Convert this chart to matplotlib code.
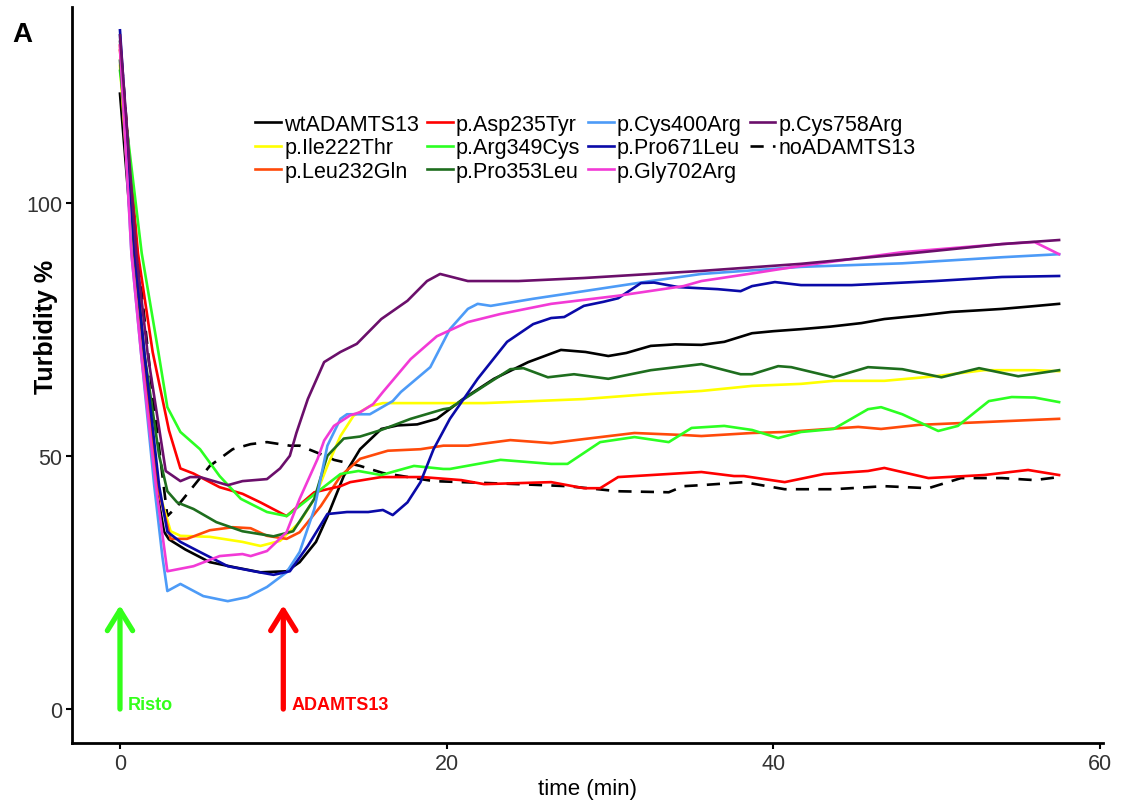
import numpy as np
import matplotlib.pyplot as plt

plt.rcParams['font.family'] = ['Liberation Sans', 'DejaVu Sans']

# ---------------------------------------- #
#        Turbidity curves (read off)       #
# ---------------------------------------- #
t_wt = [0, 0.8, 1.4, 2.2, 2.7, 3, 4, 5.5, 7, 8.6, 10.2, 11, 12, 12.7, 13.7, 14.7, 16, 17, 18.2, 19.4,
        21, 22.9, 25, 27, 28.5, 29.9, 31, 32.5, 34, 35.6, 37, 38.7, 40, 41.7, 43.5, 45.4, 46.8, 49,
        50.9, 52.5, 54, 55.8, 57.5]
y_wt = [121.5, 90, 70, 44, 35, 33.5, 31.5, 29, 28, 27, 27.2, 29, 33, 38, 46, 51.3, 55.3, 56, 56.2, 57.3,
        61.2, 65.2, 68.5, 70.9, 70.5, 69.7, 70.3, 71.7, 72, 71.9, 72.5, 74.2, 74.6, 75, 75.5, 76.2, 77, 77.7,
        78.4, 78.7, 79, 79.5, 80]

t_ile222 = [0, 0.8, 1.4, 2.3, 3.1, 3.7, 5.5, 7.5, 8.6, 9.8, 11, 11.9, 12.7, 13.5, 14.3, 15.3, 16.1, 18.8,
            22.3, 28.4, 32.5, 35.6, 38.7, 41.7, 43.7, 46.8, 49.9, 52.9, 56, 57.5]
y_ile222 = [127, 90, 70, 44, 35.1, 34.2, 34, 33, 32.2, 33.2, 36.9, 41.5, 48, 53.9, 57.9, 59.8, 60.4, 60.4,
            60.4, 61.2, 62.2, 62.8, 63.8, 64.2, 64.8, 64.8, 65.7, 66.9, 66.9, 66.7]

t_leu232 = [0, 0.8, 1.4, 2.3, 3.1, 4.1, 5.5, 6.9, 8, 9, 10.2, 11, 12.3, 13.5, 14.7, 16.4, 18.4, 19.8, 21.3,
            23.9, 26.4, 28.4, 31.5, 34.5, 35.6, 38.7, 40.7, 45.2, 46.6, 48.9, 57.5]
y_leu232 = [131, 90, 70, 44, 33.6, 33.6, 35.3, 35.9, 35.7, 34.2, 33.6, 34.9, 40.1, 46, 49.4, 51, 51.3, 52, 52,
            53.1, 52.5, 53.3, 54.5, 54.1, 53.9, 54.5, 54.7, 55.7, 55.3, 56.1, 57.3]

t_asp235 = [0, 1.1, 2, 3, 3.7, 4.5, 6.1, 7.5, 8.6, 10.2, 11.9, 13.5, 14.1, 16, 18.5, 20.9, 22.3, 26.4, 28.4,
            29.4, 30.5, 35.6, 37.6, 38.2, 40.7, 43.1, 45.8, 46.8, 49.5, 52.9, 55.6, 57.5]
y_asp235 = [130, 90, 70.5, 55, 47.5, 46.5, 43.8, 42.5, 40.8, 38.1, 42.8, 44, 44.8, 45.8, 45.8, 45.2, 44.4, 44.8,
            43.6, 43.6, 45.8, 46.8, 46, 46, 44.8, 46.4, 47, 47.6, 45.6, 46.2, 47.2, 46.2]

t_arg349 = [0, 1.33, 2.35, 2.9, 3.7, 4.9, 6.1, 7.4, 9, 10.2, 11, 12.3, 13.5, 14.6, 16, 18, 19.8, 20.2, 23.3,
            26.4, 27.4, 29.4, 31.5, 33.6, 35, 37, 38.7, 40.3, 41.7, 43.7, 45.8, 46.6, 47.9, 50.1, 51.3,
            53.2, 54.6, 56, 57.5]
y_arg349 = [126, 90, 70.5, 59.6, 54.7, 51.3, 46, 41.5, 38.9, 38.1, 40.1, 43.4, 46.4, 47, 46.2, 48, 47.4, 47.4, 49.2,
            48.4, 48.4, 52.7, 53.7, 52.7, 55.5, 55.9, 55.1, 53.5, 54.7, 55.3, 59.2, 59.6, 58.2, 54.9, 55.9,
            60.8, 61.6, 61.5, 60.6]

t_pro353 = [0, 0.9, 1.5, 2.4, 2.9, 3.5, 4.5, 5.9, 7.5, 9.4, 10.6, 11.9, 12.5, 12.7, 13.7, 14.7, 16, 17.8, 19.8,
            20.2, 22.3, 23.9, 24.7, 26.2, 27.8, 29.9, 32.5, 35.6, 38, 38.7, 40.3, 41.1, 43.7, 45.8, 47.9,
            50.3, 52.6, 55, 57.5]
y_pro353 = [128, 90, 70, 50, 43, 40.8, 39.5, 36.9, 35.1, 34.1, 35.1, 41.5, 48, 50, 53.4, 53.8, 55.1, 57.3, 59.2,
            59.4, 63.8, 67.1, 67.3, 65.5, 66.1, 65.2, 66.9, 68.1, 66.1, 66.1, 67.7, 67.5, 65.5, 67.5, 67.1,
            65.5, 67.3, 65.7, 66.9]

t_cys400 = [0, 0.7, 1.3, 2.1, 2.6, 2.9, 3.7, 5.1, 6.6, 7.8, 9, 10.2, 11, 11.9, 12.7, 13.5, 13.9, 15.3, 16.7,
            17.2, 19, 20.2, 21.3, 21.9, 22.7, 25.3, 28.4, 32.5, 35.6, 41.7, 47.9, 54, 57.5]
y_cys400 = [133, 90, 70, 44, 30, 23.3, 24.7, 22.3, 21.3, 22.1, 24.1, 27, 31, 39.5, 52, 57.3, 58.2, 58.2, 60.8,
            62.6, 67.5, 75, 79, 80, 79.6, 81, 82.5, 84.5, 85.9, 87.3, 88, 89.2, 89.8]

t_pro671 = [0, 0.9, 1.5, 2.4, 2.9, 3.7, 4.9, 6.6, 8.2, 9.4, 10.4, 11.5, 12.7, 13.9, 15.2, 16.1, 16.7, 17.6,
            18.4, 19.2, 20.2, 21.9, 23.7, 25.3, 26.4, 27.2, 28.4, 29.6, 30.5, 31.9, 32.7, 34.2, 36.6, 38,
            38.7, 40.1, 41.7, 44.8, 49.9, 54, 57.5]
y_pro671 = [134, 90, 70, 44, 35, 33, 31, 28.2, 27.2, 26.5, 27.2, 32.2, 38.5, 38.9, 38.9, 39.3, 38.3, 40.8,
            44.8, 51.3, 57.3, 65.2, 72.5, 76, 77.2, 77.4, 79.6, 80.4, 81.1, 84.1, 84.2, 83.3, 82.9, 82.5,
            83.5, 84.3, 83.7, 83.7, 84.5, 85.3, 85.5]

t_gly702 = [0, 0.7, 1.3, 2.2, 2.9, 4.5, 6.1, 7.5, 8, 9, 10.2, 11, 12.1, 12.5, 13.1, 14.1, 14.7, 15.5, 16.1,
            17.8, 19.4, 21.3, 23.3, 26.4, 30.5, 34.5, 35.6, 38.7, 41.7, 47.9, 54, 56, 57.5]
y_gly702 = [131, 90, 70, 44, 27.2, 28.2, 30.2, 30.6, 30.2, 31.2, 34.9, 41.5, 49.4, 53, 55.9, 58, 58.6, 60.2, 62.6,
            69.1, 73.6, 76.4, 78, 80, 81.6, 83.5, 84.5, 86, 87.5, 90.2, 91.8, 92.2, 89.8]

t_cys758 = [0, 1, 1.7, 2.8, 3.7, 4.3, 4.9, 6.6, 7.5, 9, 9.8, 10.4, 10.8, 11.5, 12.5, 13.5, 14.5, 16, 17.6,
            18.8, 19.6, 21.3, 24.4, 28.4, 32.5, 35.6, 41.7, 47.9, 54, 57.5]
y_cys758 = [133, 90, 70, 47, 45, 45.8, 45.8, 44.2, 45, 45.4, 47.5, 50, 54.5, 61.2, 68.5, 70.5, 72.1, 77, 80.6,
            84.5, 85.9, 84.5, 84.5, 85.1, 85.9, 86.5, 87.9, 89.8, 91.8, 92.6]

t_none = [0, 1, 2, 2.9, 3.5, 4.5, 5.5, 6.9, 8, 9, 10.4, 11, 12.7, 13.1, 14.7, 16.1, 19.2, 24.4, 27.4, 30.5,
          33.6, 34.5, 35.6, 38.2, 40.7, 43.7, 46.8, 49.5, 51.5, 54, 56, 57.5]
y_none = [132, 92, 62, 38.1, 40, 44, 48, 51.3, 52.3, 52.7, 52, 52, 49.8, 49.2, 48, 46.6, 45, 44.4, 44, 43,
          42.8, 44, 44.2, 44.8, 43.4, 43.4, 44, 43.6, 45.6, 45.6, 45.2, 45.8]

# label, times, values, colour (legend order, column-major)
series = [
    ("wtADAMTS13", t_wt, y_wt, "black"),
    ("p.Ile222Thr", t_ile222, y_ile222, "#ffff00"),
    ("p.Leu232Gln", t_leu232, y_leu232, "#ff4a0a"),
    ("p.Asp235Tyr", t_asp235, y_asp235, "#ff0000"),
    ("p.Arg349Cys", t_arg349, y_arg349, "#2cff22"),
    ("p.Pro353Leu", t_pro353, y_pro353, "#1e6e1e"),
    ("p.Cys400Arg", t_cys400, y_cys400, "#4d9bf7"),
    ("p.Pro671Leu", t_pro671, y_pro671, "#0a0aa8"),
    ("p.Gly702Arg", t_gly702, y_gly702, "#f23ad6"),
    ("p.Cys758Arg", t_cys758, y_cys758, "#6b0f6b"),
]

# events: label, time, colour
events = [("Risto", 0, "#33ff1a"), ("ADAMTS13", 10, "#ff0000")]
arrow_top = 20.5

fig = plt.figure(figsize=(11.28, 8.03), dpi=100)
ax = fig.add_axes([0.0638, 0.0735, 0.9142, 0.9165])

ln_none, = ax.plot(t_none, y_none, color='black', lw=1.9, dashes=(5, 3.5), zorder=1,
                   label="noADAMTS13")
handles = []
for name, t, y, c in series:
    h, = ax.plot(t, y, color=c, lw=1.9, label=name, zorder=2)
    handles.append(h)
handles.append(ln_none)

for name, t0, c in events:
    ax.annotate("", xy=(t0, arrow_top), xytext=(t0, 0),
                arrowprops=dict(arrowstyle='->,head_length=0.42,head_width=0.26', color=c,
                                lw=3.8, mutation_scale=35, shrinkA=0, shrinkB=0))
    ax.text(t0 + 0.5, 0, name, color=c, fontsize=13, fontweight='bold', va='baseline', ha='left')

ax.set_xlim(-2.94, 60.2)
ax.set_ylim(-6.7, 138.6)
ax.set_xticks([0, 20, 40, 60])
ax.set_yticks([0, 50, 100])
ax.spines['top'].set_visible(False)
ax.spines['right'].set_visible(False)
for s in ('left', 'bottom'):
    ax.spines[s].set_linewidth(2)
ax.tick_params(axis='both', length=4, width=1.5, labelsize=15.5, labelcolor='#333333', pad=3)

ax.set_xlabel("time (min)", fontsize=16, labelpad=3)
ax.set_ylabel("Turbidity %", fontsize=18, fontweight='bold')
ax.yaxis.set_label_coords(-0.014, 0.567)

ax.legend(handles=handles, labels=[h.get_label() for h in handles], ncol=4, frameon=False,
          loc='upper left', bbox_to_anchor=(0.1775, 0.855), borderpad=0, borderaxespad=0,
          fontsize=15.5, handlelength=1.2, handletextpad=0.15, labelspacing=0.12, columnspacing=0.36)

fig.text(0.011, 0.948, "A", fontsize=20, fontweight='bold')

fig.savefig("out.png", dpi=100)
